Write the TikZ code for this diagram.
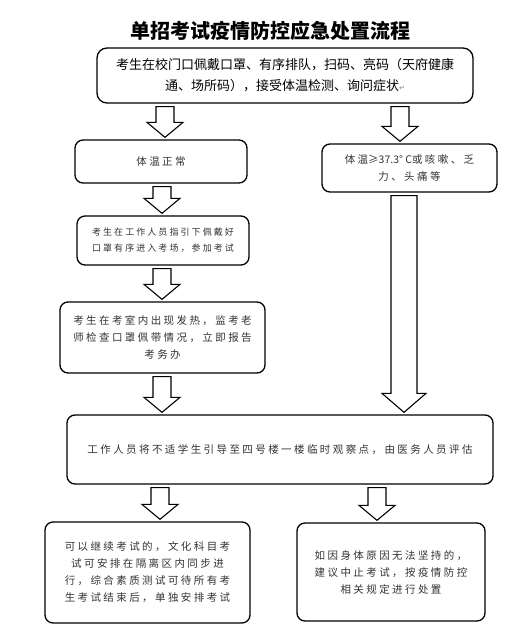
\documentclass[tikz,border=0pt]{standalone}
\usepackage{fontspec}
\usepackage{xcolor}
\usepackage{tikz}
\usetikzlibrary{calc}

\newfontfamily\cjk{Noto Sans CJK SC}
\newfontfamily\cjkwide[LetterSpace=23]{Noto Sans CJK SC}
\newfontfamily\symb{DejaVu Sans}

\tikzset{
  flowbox/.style={draw=black, line width=1.3pt, rounded corners=8pt, align=center,
    text=black!80, font=\cjkwide\fontsize{10.5}{17}\selectfont},
  arrowline/.style={draw=black, line width=1.1pt, fill=white, line join=miter},
}

% hollow block arrow: [stem half width]{start point}{end point}
\newcommand{\blockarrow}[3][9pt]{%
  \draw[arrowline] let \p1=#2, \p2=#3 in
    (\x1-#1,\y1-3pt) -- (\x1+#1,\y1-3pt) -- (\x1+#1,\y2+#1+8pt) -- (\x1+#1+9pt,\y2+#1+8pt)
    -- (\x1,\y2+2pt) -- (\x1-#1-9pt,\y2+#1+8pt) -- (\x1-#1,\y2+#1+8pt) -- cycle;
}

\begin{document}
\begin{tikzpicture}[x=1pt, y=-1pt]
      \fill[white] (0,0) rectangle (521,629);
      \useasboundingbox (0,0) rectangle (521,629);

      % Title
      \node[font=\cjk\bfseries\fontsize{20}{24}\selectfont] (title) at (270,31) {单招考试疫情防控应急处置流程};

      % Entry check
      \node[flowbox, rounded corners=10pt, minimum width=376pt, minimum height=55pt, text=black,
            font=\cjk\fontsize{13}{21}\selectfont] (entry) at (285,75.5)
            {考生在校门口佩戴口罩、有序排队，扫码、亮码（天府健康\\
             通、场所码），接受体温检测、询问症状{\symb\color{gray}\fontsize{7}{7}\selectfont ↵}};

      % Left branch
      \node[flowbox, minimum width=172pt, minimum height=43pt] (normal) at (161,161.5) {体温正常};
      \node[flowbox, minimum width=172pt, minimum height=49pt,
            font=\cjkwide\fontsize{9}{16}\selectfont] (guided) at (163,240.5)
            {考生在工作人员指引下佩戴好\\口罩有序进入考场，参加考试};
      \node[flowbox, minimum width=205pt, minimum height=71pt] (inroom) at (162.5,337.5)
            {考生在考室内出现发热，监考老\\师检查口罩佩带情况，立即报告\\考务办};

      % Right branch
      \node[flowbox, minimum width=175pt, minimum height=48pt] (fever) at (409.5,168)
            {体温{\cjk ≥37.3° C}或咳嗽、乏\\力、头痛等};

      % Observation point
      \node[flowbox, minimum width=426pt, minimum height=69pt] (observe) at (280,449.5)
            {工作人员将不适学生引导至四号楼一楼临时观察点，由医务人员评估};

      % Outcomes
      \node[flowbox, minimum width=205pt, minimum height=101pt] (resume) at (147.5,572.5)
            {可以继续考试的，文化科目考\\试可安排在隔离区内同步进\\行，综合素质测试可待所有考\\生考试结束后，单独安排考试};
      \node[flowbox, minimum width=188pt, minimum height=98pt] (suspend) at (391,572)
            {如因身体原因无法坚持的，\\建议中止考试，按疫情防控\\相关规定进行处置};

      % Arrows
      \blockarrow{(165,0 |- entry.south)}{(165,0 |- normal.north)}
      \blockarrow{(400,0 |- entry.south)}{(400,0 |- fever.north)}
      \blockarrow{(162,0 |- normal.south)}{(162,0 |- guided.north)}
      \blockarrow{(162,0 |- guided.south)}{(162,0 |- inroom.north)}
      \blockarrow{(162,0 |- inroom.south)}{(162,0 |- observe.north)}
      \blockarrow[13pt]{(404,0 |- fever.south)}{(404,0 |- observe.north)}
      \blockarrow{(160,0 |- observe.south)}{(160,0 |- resume.north)}
      \blockarrow{(377,0 |- observe.south)}{(377,0 |- suspend.north)}
\end{tikzpicture}
\end{document}
